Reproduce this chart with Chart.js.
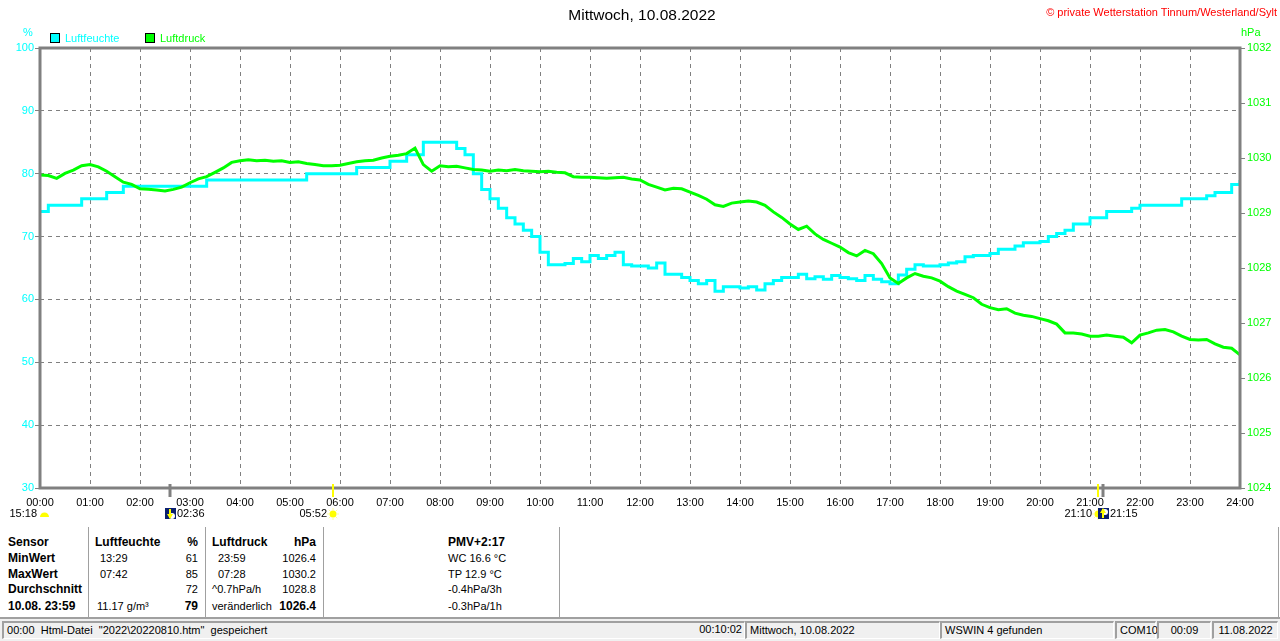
<!DOCTYPE html>
<html lang="de">
<head>
<meta charset="UTF-8">
<title>Mittwoch, 10.08.2022</title>
<script src="https://cdn.jsdelivr.net/npm/chart.js"></script>
<style>
    body { margin: 0; background: #fff; font-family: "Liberation Sans", Arial, sans-serif; font-size: 11px; color: #000; }
    #wrap { position: relative; width: 1280px; height: 641px; overflow: hidden; }
    #grafik { position: absolute; left: 0; top: 0; }
    .t { position: absolute; white-space: pre; line-height: 14px; }
    .b { font-weight: bold; font-size: 12px; }
    .r { text-align: right; }
    .box { position: absolute; width: 10px; height: 10px; box-sizing: border-box; border: 1px solid #000; }
    .vl { position: absolute; top: 527px; height: 90px; width: 1px; background: #a0a0a0; }
    #status { position: absolute; left: 0; top: 617px; width: 1280px; height: 24px; background: #f0f0f0; border-top: 2px solid #a0a0a0; box-sizing: border-box; }
    .feld { position: absolute; top: 2px; height: 18px; box-sizing: border-box; border-top: 2px solid #a0a0a0; border-left: 2px solid #a0a0a0; border-bottom: 1px solid #fff; border-right: 1px solid #fff; line-height: 15px; white-space: pre; }
</style>
</head>
<body>
<div id="wrap">
    <canvas id="grafik" width="1280" height="525"></canvas>

    <div class="t" style="left:0; width:1284px; top:6px; text-align:center; font-size:15.5px; line-height:18px;">Mittwoch, 10.08.2022</div>
    <div class="t r" style="left:900px; width:377px; top:5px; color:#ff0000;">© private Wetterstation Tinnum/Westerland/Sylt</div>
    <div class="t" style="left:23px; top:25px; color:#00ffff;">%</div>
    <div class="t" style="left:1241px; top:25px; color:#00ff00;">hPa</div>
    <div class="box" style="left:50px; top:33px; background:#00ffff;"></div>
    <div class="t" style="left:65px; top:31px; color:#00ffff;">Luftfeuchte</div>
    <div class="box" style="left:145px; top:33px; background:#00ff00;"></div>
    <div class="t" style="left:160px; top:31px; color:#00ff00;">Luftdruck</div>

    <!-- Tabelle -->
    <div class="vl" style="left:88px"></div>
    <div class="vl" style="left:205px"></div>
    <div class="vl" style="left:323px"></div>
    <div class="vl" style="left:559px"></div>
    <div class="vl" style="left:1278px"></div>

    <div class="t b" style="left:8px; top:535px;">Sensor</div>
    <div class="t b" style="left:8px; top:551px;">MinWert</div>
    <div class="t b" style="left:8px; top:567px;">MaxWert</div>
    <div class="t b" style="left:8px; top:582px;">Durchschnitt</div>
    <div class="t b" style="left:8px; top:599px;">10.08. 23:59</div>

    <div class="t b" style="left:95px; top:535px;">Luftfeuchte</div>
    <div class="t b r" style="left:150px; width:48px; top:535px;">%</div>
    <div class="t" style="left:100px; top:551px;">13:29</div>
    <div class="t r" style="left:150px; width:48px; top:551px;">61</div>
    <div class="t" style="left:100px; top:567px;">07:42</div>
    <div class="t r" style="left:150px; width:48px; top:567px;">85</div>
    <div class="t r" style="left:150px; width:48px; top:582px;">72</div>
    <div class="t" style="left:97px; top:599px;">11.17 g/m³</div>
    <div class="t b r" style="left:150px; width:48px; top:599px;">79</div>

    <div class="t b" style="left:212px; top:535px;">Luftdruck</div>
    <div class="t b r" style="left:266px; width:50px; top:535px;">hPa</div>
    <div class="t" style="left:218px; top:551px;">23:59</div>
    <div class="t r" style="left:266px; width:50px; top:551px;">1026.4</div>
    <div class="t" style="left:218px; top:567px;">07:28</div>
    <div class="t r" style="left:266px; width:50px; top:567px;">1030.2</div>
    <div class="t" style="left:212px; top:582px;">^0.7hPa/h</div>
    <div class="t r" style="left:266px; width:50px; top:582px;">1028.8</div>
    <div class="t" style="left:212px; top:599px;">veränderlich</div>
    <div class="t b r" style="left:266px; width:50px; top:599px;">1026.4</div>

    <div class="t b" style="left:448px; top:535px;">PMV+2:17</div>
    <div class="t" style="left:448px; top:551px;">WC 16.6 °C</div>
    <div class="t" style="left:448px; top:567px;">TP 12.9 °C</div>
    <div class="t" style="left:448px; top:582px;">-0.4hPa/3h</div>
    <div class="t" style="left:448px; top:599px;">-0.3hPa/1h</div>

    <div id="status">
        <div class="feld" style="left:2px; width:743px;"> 00:00  Html-Datei  "2022\20220810.htm"  gespeichert</div>
        <div class="t" style="left:697px; top:3px; width:45px; text-align:right;">00:10:02</div>
        <div class="feld" style="left:745px; width:195px;"> Mittwoch, 10.08.2022</div>
        <div class="feld" style="left:940px; width:174px;"> WSWIN 4 gefunden</div>
        <div class="feld" style="left:1115px; width:41px;"> COM10</div>
        <div class="feld" style="left:1157px; width:54px; text-align:center;">00:09</div>
        <div class="feld" style="left:1212px; width:66px; text-align:center;">11.08.2022</div>
    </div>
</div>

<script>
    // Messwerte alle 10 Minuten, 00:00 bis 24:00
    const messIntervall = 10;
    const stunden = [0, 1, 2, 3, 4, 5, 6, 7, 8, 9, 10, 11, 12, 13, 14, 15, 16, 17, 18, 19, 20, 21, 22, 23, 24];
    const feuchteBereich = [30, 100, 10];
    const druckBereich = [1024, 1032, 1];

    const luftfeuchte = [
        74, 75, 75, 75, 75, 76,
        76, 76, 77, 77, 78, 78,
        78, 78, 78, 78, 78, 78,
        78, 78, 79, 79, 79, 79,
        79, 79, 79, 79, 79, 79,
        79, 79, 80, 80, 80, 80,
        80, 80, 81, 81, 81, 81,
        82, 82, 83, 83, 85, 85,
        85, 85, 84, 83, 80, 77.5,
        76, 74.5, 73, 72, 71, 70,
        67.5, 65.5, 65.5, 65.7, 66.5, 66,
        67, 66.5, 67, 67.5, 65.5, 65.3,
        65.3, 65, 65.8, 64, 64, 63.5,
        63, 62.5, 63, 61.3, 62, 62,
        61.8, 62, 61.5, 62.5, 63, 63.5,
        63.5, 64, 63.3, 63.6, 63.2, 63.8,
        63.5, 63.3, 63, 63.8, 63.2, 62.8,
        62.5, 63.9, 64.8, 65.5, 65.3, 65.3,
        65.5, 65.8, 66, 66.8, 67, 67,
        67.3, 68, 68, 68.5, 69, 69,
        69.2, 70, 70.5, 71, 72, 72,
        73, 73, 74, 74, 74, 74.5,
        75, 75, 75, 75, 75, 76,
        76, 76, 76.5, 77, 77, 78.3,
        79
    ];

    const luftdruck = [
        1029.69, 1029.68, 1029.63, 1029.72, 1029.78, 1029.86,
        1029.88, 1029.84, 1029.76, 1029.66, 1029.56, 1029.52,
        1029.44, 1029.43, 1029.42, 1029.40, 1029.43, 1029.47,
        1029.55, 1029.62, 1029.66, 1029.74, 1029.82, 1029.92,
        1029.95, 1029.97, 1029.95, 1029.96, 1029.94, 1029.95,
        1029.92, 1029.93, 1029.90, 1029.88, 1029.86, 1029.86,
        1029.87, 1029.90, 1029.93, 1029.95, 1029.96, 1030.00,
        1030.03, 1030.05, 1030.08, 1030.18, 1029.88, 1029.76,
        1029.86, 1029.84, 1029.85, 1029.82, 1029.79, 1029.78,
        1029.76, 1029.78, 1029.77, 1029.79, 1029.77, 1029.76,
        1029.75, 1029.76, 1029.74, 1029.73, 1029.66, 1029.65,
        1029.65, 1029.64, 1029.63, 1029.64, 1029.65, 1029.62,
        1029.60, 1029.52, 1029.47, 1029.42, 1029.45, 1029.44,
        1029.38, 1029.32, 1029.25, 1029.15, 1029.12, 1029.18,
        1029.20, 1029.22, 1029.20, 1029.14, 1029.02, 1028.92,
        1028.80, 1028.70, 1028.76, 1028.62, 1028.52, 1028.45,
        1028.38, 1028.28, 1028.22, 1028.32, 1028.26, 1028.08,
        1027.82, 1027.72, 1027.82, 1027.90, 1027.85, 1027.82,
        1027.76, 1027.66, 1027.58, 1027.52, 1027.46, 1027.34,
        1027.28, 1027.24, 1027.26, 1027.18, 1027.14, 1027.12,
        1027.08, 1027.04, 1026.98, 1026.82, 1026.82, 1026.80,
        1026.76, 1026.76, 1026.78, 1026.76, 1026.74, 1026.64,
        1026.78, 1026.82, 1026.87, 1026.88, 1026.84, 1026.76,
        1026.70, 1026.69, 1026.70, 1026.62, 1026.56, 1026.54,
        1026.42
    ];

    // Mond- und Sonnenzeiten unter der Achse
    const astroZeiten = ['02:36', '05:52', '21:10', '21:15'];
    const astroArt = ['mond', 'sonne', 'sonne', 'mond'];
    const astroSeite = ['rechts', 'links', 'links', 'rechts'];
    const mondPhaseText = '15:18';

    function inStunden(zeit) {
        const teile = zeit.split(':');
        return Number(teile[0]) + Number(teile[1]) / 60;
    }

    function alsPunkte(werte) {
        return werte.map((v, i) => ({ x: i * messIntervall / 60, y: v }));
    }

    function mondSymbol(ctx, x, y, hoch) {
        ctx.fillStyle = '#0a1f6e';
        ctx.fillRect(x - 5, y - 6, 11, 11);
        ctx.fillStyle = '#ffffff';
        ctx.beginPath();
        ctx.arc(x + 2, y + (hoch ? -2 : 2), 3, 0, Math.PI * 2);
        ctx.fill();
        ctx.strokeStyle = '#ffff00';
        ctx.fillStyle = '#ffff00';
        ctx.lineWidth = 2;
        ctx.beginPath();
        ctx.moveTo(x, y - 5);
        ctx.lineTo(x, y + 4);
        ctx.stroke();
        ctx.beginPath();
        if (hoch) {
            ctx.moveTo(x - 3, y - 1); ctx.lineTo(x, y - 6); ctx.lineTo(x + 3, y - 1);
        } else {
            ctx.moveTo(x - 3, y); ctx.lineTo(x, y + 5); ctx.lineTo(x + 3, y);
        }
        ctx.fill();
    }

    function sonnenSymbol(ctx, x, y) {
        ctx.strokeStyle = '#ffff99';
        ctx.lineWidth = 1;
        for (let k = 0; k < 8; k++) {
            const w = k * Math.PI / 4;
            ctx.beginPath();
            ctx.moveTo(x + Math.cos(w) * 4, y + Math.sin(w) * 4);
            ctx.lineTo(x + Math.cos(w) * 6, y + Math.sin(w) * 6);
            ctx.stroke();
        }
        ctx.fillStyle = '#ffff00';
        ctx.beginPath();
        ctx.arc(x, y, 3.5, 0, Math.PI * 2);
        ctx.fill();
    }

    const rahmenPlugin = {
        id: 'rahmen',
        afterDraw(chart) {
            const ctx = chart.ctx;
            const a = chart.chartArea;
            const sx = chart.scales.x;
            ctx.save();
            ctx.strokeStyle = '#808080';
            ctx.lineWidth = 3;
            ctx.strokeRect(a.left, a.top, a.right - a.left, a.bottom - a.top);

            ctx.font = '11px "Liberation Sans", Arial, sans-serif';
            ctx.textBaseline = 'middle';
            const zeileY = 514;

            astroZeiten.forEach((zeit, i) => {
                const px = Math.round(sx.getPixelForValue(inStunden(zeit)));
                ctx.strokeStyle = astroArt[i] === 'sonne' ? '#ffff00' : '#808080';
                ctx.lineWidth = astroArt[i] === 'sonne' ? 2 : 3;
                ctx.beginPath();
                ctx.moveTo(px, 484);
                ctx.lineTo(px, 497);
                ctx.stroke();
            });
            astroZeiten.forEach((zeit, i) => {
                const px = Math.round(sx.getPixelForValue(inStunden(zeit)));
                if (astroArt[i] === 'mond') {
                    mondSymbol(ctx, px, zeileY, i > 1);
                } else {
                    sonnenSymbol(ctx, px, zeileY);
                }
                ctx.fillStyle = '#000';
                if (astroSeite[i] === 'rechts') {
                    ctx.textAlign = 'left';
                    ctx.fillText(zeit, px + 7, zeileY);
                } else {
                    ctx.textAlign = 'right';
                    ctx.fillText(zeit, px - 6, zeileY);
                }
            });

            // Mondphase links
            ctx.textAlign = 'right';
            ctx.fillStyle = '#000';
            ctx.fillText(mondPhaseText, 37, zeileY);
            ctx.fillStyle = '#ffff00';
            ctx.beginPath();
            ctx.arc(44.5, 517, 4.5, Math.PI, 0);
            ctx.fill();
            ctx.restore();
        }
    };

    Chart.defaults.font.family = '"Liberation Sans", Arial, sans-serif';
    Chart.defaults.font.size = 11;

    new Chart(document.getElementById('grafik'), {
        type: 'line',
        data: {
            datasets: [{
                label: 'Luftfeuchte',
                data: alsPunkte(luftfeuchte),
                yAxisID: 'yF',
                borderColor: '#00ffff',
                borderWidth: 3,
                stepped: true,
                pointRadius: 0,
                order: 2
            }, {
                label: 'Luftdruck',
                data: alsPunkte(luftdruck),
                yAxisID: 'yD',
                borderColor: '#00ff00',
                borderWidth: 3,
                pointRadius: 0,
                tension: 0,
                order: 1
            }]
        },
        options: {
            responsive: false,
            animation: false,
            devicePixelRatio: 1,
            layout: { padding: { top: 48, left: 0, right: 0, bottom: 0 } },
            plugins: { legend: { display: false }, tooltip: { enabled: false } },
            scales: {
                x: {
                    type: 'linear',
                    min: stunden[0],
                    max: stunden[stunden.length - 1],
                    afterBuildTicks: s => { s.ticks = stunden.map(h => ({ value: h })); },
                    ticks: {
                        color: '#000',
                        padding: 8,
                        maxRotation: 0,
                        autoSkip: false,
                        callback: v => String(v).padStart(2, '0') + ':00'
                    },
                    grid: { color: '#808080', lineWidth: 1, drawTicks: false },
                    border: { display: false, dash: [4, 4] },
                    afterFit: s => { s.height = 37; }
                },
                yF: {
                    position: 'left',
                    min: feuchteBereich[0],
                    max: feuchteBereich[1],
                    ticks: { stepSize: feuchteBereich[2], color: '#00ffff', padding: 1, callback: v => String(v) },
                    grid: { color: '#808080', lineWidth: 1, tickColor: '#808080', tickLength: 5, tickBorderDash: [] },
                    border: { display: false, dash: [4, 4] },
                    afterFit: s => { s.width = 40; }
                },
                yD: {
                    position: 'right',
                    min: druckBereich[0],
                    max: druckBereich[1],
                    ticks: { stepSize: druckBereich[2], color: '#00ff00', padding: 2, callback: v => String(v) },
                    grid: { drawOnChartArea: false, tickColor: '#808080', tickLength: 5 },
                    border: { display: false },
                    afterFit: s => { s.width = 40; }
                }
            }
        },
        plugins: [rahmenPlugin]
    });
</script>
</body>
</html>
